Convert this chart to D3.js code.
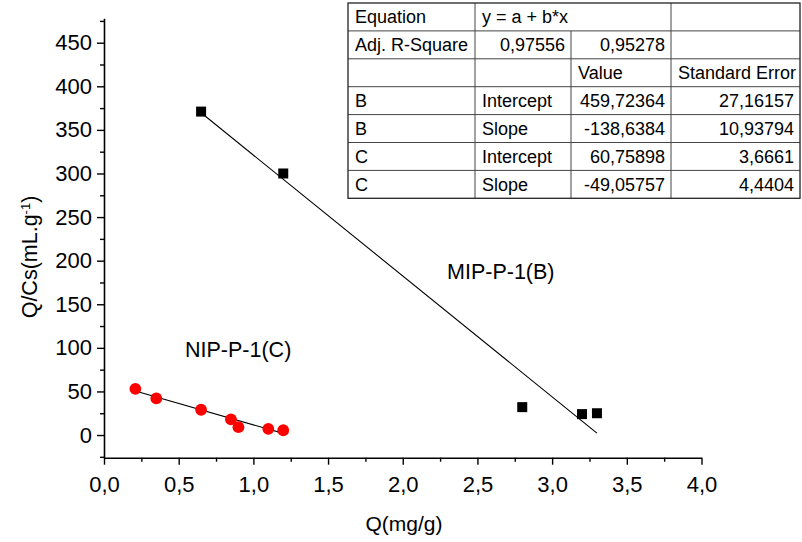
<!DOCTYPE html>
<html>
<head>
<meta charset="utf-8">
<script src="https://cdn.jsdelivr.net/npm/d3@7"></script>
<style>
  html, body { margin: 0; padding: 0; background: #fff; }
  svg { display: block; font-family: "Liberation Sans", Arial, sans-serif; }
</style>
</head>
<body>
<svg id="chart" width="802" height="542"></svg>
<script>
// Series B (MIP-P-1) : squares
const bQ = [0.65, 1.2, 2.8, 3.2, 3.3];
const bQC = [371, 300, 32, 24, 25];
// Series C (NIP-P-1) : circles
const cQ = [0.21, 0.35, 0.65, 0.85, 0.9, 1.1, 1.2];
const cQC = [53, 42, 29, 18, 9, 7, 5.5];

// Linear fit parameters (y = a + b*x)
const fitB = { a: 459.72364, b: -138.6384, from: 0.65, to: 3.3 };
const fitC = { a: 60.75898, b: -49.05757, from: 0.21, to: 1.2 };

const xTicks = [0, 0.5, 1, 1.5, 2, 2.5, 3, 3.5, 4];
const xMinor = [0.25, 0.75, 1.25, 1.75, 2.25, 2.75, 3.25, 3.75];
const yTicks = [0, 50, 100, 150, 200, 250, 300, 350, 400, 450];
const yMinor = [-25, 25, 75, 125, 175, 225, 275, 325, 375, 425, 475];

// Fit statistics table
const tableRows = [
  ["Equation", "y = a + b*x", null, ""],
  ["Adj. R-Square", "0,97556", "0,95278", ""],
  ["", "", "Value", "Standard Error"],
  ["B", "Intercept", "459,72364", "27,16157"],
  ["B", "Slope", "-138,6384", "10,93794"],
  ["C", "Intercept", "60,75898", "3,6661"],
  ["C", "Slope", "-49,05757", "4,4404"]
];

const svg = d3.select("#chart");
const x = d3.scaleLinear().domain([0, 4]).range([104, 701.5]);
const y = d3.scaleLinear().domain([-26, 478]).range([457.7, 18.3]);
const comma = d => d3.format(".1f")(d).replace(".", ",");

// X axis
const gx = svg.append("g").attr("transform", `translate(0,${y(-26)})`);
gx.call(d3.axisBottom(x).tickValues(xTicks).tickFormat(comma).tickSize(7).tickSizeOuter(0).tickPadding(6));
svg.append("g").attr("transform", `translate(0,${y(-26)})`)
  .call(d3.axisBottom(x).tickValues(xMinor).tickFormat("").tickSize(4).tickSizeOuter(0))
  .select(".domain").remove();

// Y axis
const gy = svg.append("g").attr("transform", `translate(${x(0)},0)`);
gy.call(d3.axisLeft(y).tickValues(yTicks).tickSize(7).tickSizeOuter(0).tickPadding(5));
svg.append("g").attr("transform", `translate(${x(0)},0)`)
  .call(d3.axisLeft(y).tickValues(yMinor).tickFormat("").tickSize(4).tickSizeOuter(0))
  .select(".domain").remove();

svg.selectAll(".domain").attr("stroke", "#000").attr("stroke-width", 1.6);
svg.selectAll(".tick line").attr("stroke", "#000").attr("stroke-width", 1.4);
svg.selectAll(".tick text").attr("fill", "#000").attr("font-size", 22)
  .attr("font-family", "Liberation Sans, Arial, sans-serif");
gx.selectAll(".tick text").attr("dy", "0.95em");

// Axis titles
svg.append("text").attr("x", 404).attr("y", 531).attr("text-anchor", "middle")
  .attr("font-size", 21).text("Q(mg/g)");
const yt = svg.append("text").attr("transform", "translate(37,257) rotate(-90)")
  .attr("text-anchor", "middle").attr("font-size", 21.5);
yt.append("tspan").text("Q/Cs(mL.g");
yt.append("tspan").attr("font-size", 13).attr("baseline-shift", "super").text("-1");
yt.append("tspan").text(")");

// Fit lines
[fitB, fitC].forEach(f => {
  svg.append("line")
    .attr("x1", x(f.from)).attr("y1", y(f.a + f.b * f.from))
    .attr("x2", x(f.to)).attr("y2", y(f.a + f.b * f.to))
    .attr("stroke", "#000").attr("stroke-width", 1.1);
});

// Series markers
svg.append("g").selectAll("rect").data(bQ.map((q, i) => [q, bQC[i]])).join("rect")
  .attr("x", d => x(d[0]) - 5).attr("y", d => y(d[1]) - 5)
  .attr("width", 10).attr("height", 10).attr("fill", "#000");
svg.append("g").selectAll("circle").data(cQ.map((q, i) => [q, cQC[i]])).join("circle")
  .attr("cx", d => x(d[0])).attr("cy", d => y(d[1])).attr("r", 5.9).attr("fill", "#ff0000");

// Series labels
svg.append("text").attr("x", 185).attr("y", 357).attr("font-size", 21.5).text("NIP-P-1(C)");
svg.append("text").attr("x", 447).attr("y", 279).attr("font-size", 21.5).text("MIP-P-1(B)");

// Table
const colX = [348, 475, 571, 671, 800];
const tableTop = 3, rowH = 27.9;
const tg = svg.append("g").attr("font-size", 18);
tableRows.forEach((row, r) => {
  const yTop = tableTop + r * rowH;
  const base = yTop + rowH / 2 + 6.5;
  row.forEach((cell, c) => {
    if (cell === null || cell === "") return;
    const numeric = /^-?\d/.test(cell);
    const t = tg.append("text").attr("y", base).text(cell);
    if (numeric && r !== 0) {
      t.attr("x", colX[c + 1] - 6).attr("text-anchor", "end");
    } else {
      t.attr("x", colX[c] + 7);
    }
  });
  if (r > 0) {
    tg.append("line").attr("x1", colX[0]).attr("x2", colX[4])
      .attr("y1", yTop).attr("y2", yTop).attr("stroke", "#444").attr("stroke-width", 1);
  }
});
const tableBottom = tableTop + tableRows.length * rowH;
colX.forEach((cx, i) => {
  if (i === 0 || i === 4) return;
  const y1 = (i === 2) ? tableTop + rowH : tableTop;
  tg.append("line").attr("x1", cx).attr("x2", cx).attr("y1", y1).attr("y2", tableBottom)
    .attr("stroke", "#444").attr("stroke-width", 1);
});
tg.append("rect").attr("x", colX[0]).attr("y", tableTop).attr("width", colX[4] - colX[0])
  .attr("height", tableBottom - tableTop).attr("fill", "none").attr("stroke", "#222").attr("stroke-width", 1.3);
</script>
</body>
</html>
